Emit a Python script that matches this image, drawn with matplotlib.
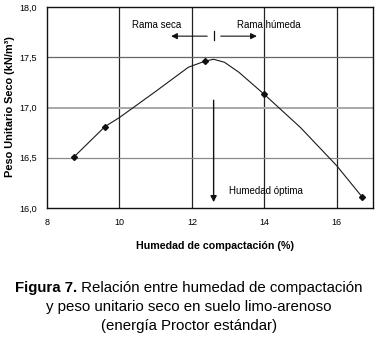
import matplotlib
matplotlib.use("Agg")
import matplotlib.pyplot as plt
import numpy as np

plt.rcParams['font.family'] = ['Liberation Sans', 'DejaVu Sans']

# measured points
humedad = [8.75, 9.6, 12.35, 14.0, 16.7]
peso = [16.51, 16.81, 17.46, 17.13, 16.11]

# smooth curve
curva_x = [8.75, 9.6, 10.0, 11.0, 11.9, 12.35, 12.6, 12.9, 13.3, 14.0, 15.0, 16.0, 16.7]
curva_y = [16.51, 16.81, 16.90, 17.16, 17.40, 17.46, 17.48, 17.45, 17.35, 17.13, 16.80, 16.42, 16.11]

x_ticks = [8, 10, 12, 14, 16]
y_ticks = [16.0, 16.5, 17.0, 17.5, 18.0]
y_labels = ['16,0', '16,5', '17,0', '17,5', '18,0']

w_opt = 12.6

fig = plt.figure(figsize=(3.79, 3.40), dpi=100)
ax = fig.add_axes([47/379, 1-208/340, 326/379, 201/340])
ax.set_xlim(8, 17)
ax.set_ylim(16.0, 18.0)

for xv in [10, 12, 14, 16]:
    ax.axvline(xv, color='#222222', lw=0.9, zorder=1)
for yv, c, lw in [(16.5, '#8a8a8a', 0.9), (17.0, '#a8a8a8', 1.4), (17.5, '#666666', 0.9)]:
    ax.axhline(yv, color=c, lw=lw, zorder=1)

ax.plot(curva_x, curva_y, color='#1a1a1a', lw=0.8, zorder=3)
ax.plot(humedad, peso, linestyle='none', marker='D', markersize=3, color='#111111', zorder=4)

ax.set_xticks(x_ticks)
ax.set_xticklabels([str(v) for v in x_ticks], fontsize=6.5)
ax.set_yticks(y_ticks)
ax.set_yticklabels(y_labels, fontsize=6.5)
ax.tick_params(length=0, pad=7)
for s in ax.spines.values():
    s.set_linewidth(1.0)
    s.set_color('#111111')

ax.set_xlabel('Humedad de compactación (%)', fontsize=7.7, fontweight='bold')
ax.xaxis.set_label_coords(168/326, -0.165)
ax.set_ylabel('Peso Unitario Seco (kN/m³)', fontsize=7.9, fontweight='bold')
ax.yaxis.set_label_coords(-0.098, 0.505)

# annotations
ax.text(11.03, 17.82, 'Rama seca', fontsize=7, ha='center', va='center')
ax.text(14.12, 17.82, 'Rama húmeda', fontsize=7, ha='center', va='center')
ax.annotate('', xy=(11.35, 17.71), xytext=(12.5, 17.71),
            arrowprops=dict(arrowstyle='-|>', color='#111111', lw=0.8, mutation_scale=9))
ax.annotate('', xy=(13.87, 17.71), xytext=(12.72, 17.71),
            arrowprops=dict(arrowstyle='-|>', color='#111111', lw=0.8, mutation_scale=9))
ax.plot([w_opt, w_opt], [17.67, 17.76], color='#111111', lw=0.9)
ax.annotate('', xy=(w_opt, 16.03), xytext=(w_opt, 17.10),
            arrowprops=dict(arrowstyle='-|>', color='#111111', lw=1.0, mutation_scale=9))
ax.text(14.04, 16.17, 'Humedad óptima', fontsize=7, ha='center', va='center')

# caption
fig.canvas.draw()
r = fig.canvas.get_renderer()
fs = 10.8
y1 = 1 - 288/340
t1 = fig.text(0, y1, 'Figura 7.', fontsize=fs, fontweight='bold', va='center', ha='left')
t2 = fig.text(0, y1, ' Relación entre humedad de compactación', fontsize=fs, va='center', ha='left')
w1 = t1.get_window_extent(r).width
w2 = t2.get_window_extent(r).width
W = fig.bbox.width
x0 = (189 - (w1 + w2) / 2) / W
t1.set_x(x0)
t2.set_x(x0 + w1 / W)
fig.text(189/379, 1 - 307/340, 'y peso unitario seco en suelo limo-arenoso', fontsize=fs, ha='center', va='center')
fig.text(189/379, 1 - 326/340, '(energía Proctor estándar)', fontsize=fs, ha='center', va='center')

fig.savefig('out.png', dpi=100)
